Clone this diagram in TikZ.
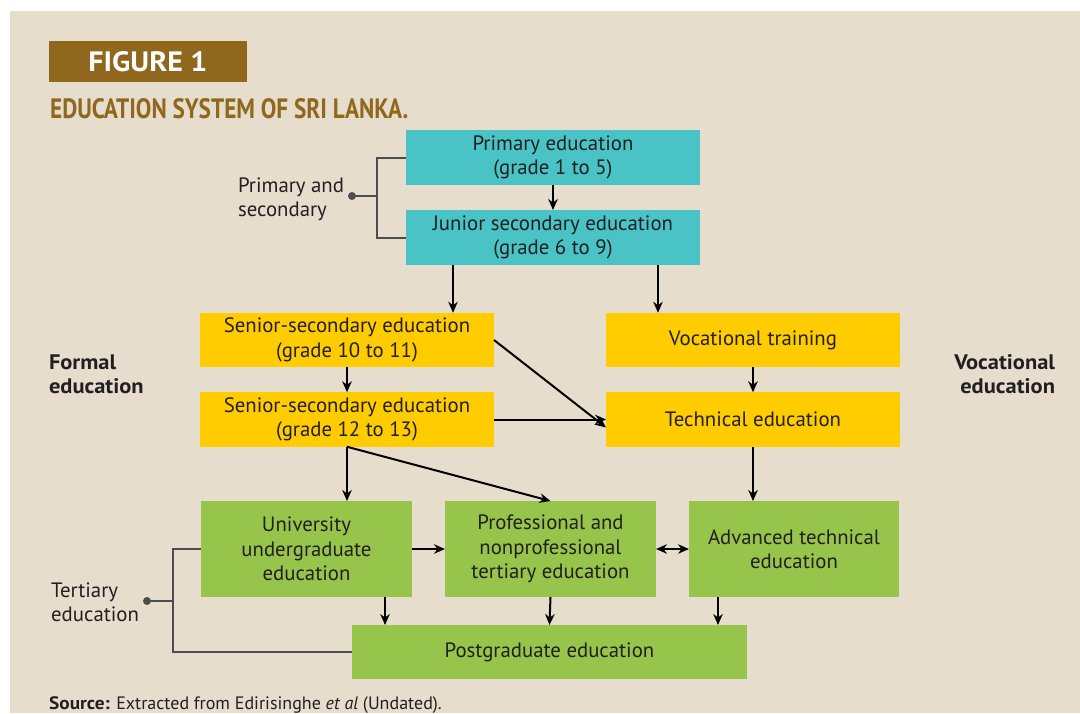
\documentclass[tikz,border=0pt]{standalone}
\usepackage{fontspec}
\setmainfont{PT Sans}
\newfontfamily\condfont{PT Sans}[FakeStretch=0.83]
\newfontfamily\widefont{PT Sans}[FakeStretch=1.07]
\usetikzlibrary{arrows.meta, positioning, calc}
\definecolor{bgbeige}{RGB}{230,221,205}
\definecolor{figbrown}{RGB}{143,104,30}
\definecolor{tealbox}{RGB}{73,195,198}
\definecolor{yellowbox}{RGB}{255,204,0}
\definecolor{greenbox}{RGB}{151,196,75}
\definecolor{txtdark}{RGB}{35,31,32}
\definecolor{brackgray}{RGB}{77,77,79}
\tikzset{
  basebox/.style={rectangle,inner sep=2pt,outer sep=0pt,align=center,text=txtdark,font=\fontsize{20.8}{24.5}\selectfont},
  primnode/.style={basebox,fill=tealbox,minimum width=294pt,minimum height=55pt},
  secnode/.style={basebox,fill=yellowbox,minimum width=294pt,minimum height=54.5pt},
  ternode/.style={basebox,fill=greenbox,minimum width=211pt,minimum height=96pt},
  labelnode/.style={inner sep=0pt,outer sep=0pt,text=txtdark,font=\fontsize{20.8}{24}\selectfont},
  boldlabel/.style={labelnode,font=\fontsize{21}{24}\widefont\bfseries},
  arr/.style={-{Stealth[length=11pt,width=9.5pt]},line width=2pt,color=black},
  dblarr/.style={{Stealth[length=11pt,width=9.5pt]}-{Stealth[length=11pt,width=9.5pt]},line width=2pt,color=black},
  brack/.style={line width=2pt,draw=brackgray}
}

\begin{document}
\begin{tikzpicture}[x=1pt,y=-1pt]
  \useasboundingbox (0,0) rectangle (1080,713);
  \fill[bgbeige] (10,11) rectangle (1080,713);

  % heading
  \node[fill=figbrown,minimum width=198pt,minimum height=41pt,inner sep=0pt,text=white,
        font=\fontsize{28}{30}\widefont\bfseries] (fig) at (148,61.5) {FIGURE 1};
  \node[anchor=base west,inner sep=0pt,text=figbrown,font=\fontsize{28}{32}\condfont\bfseries]
    (title) at (50,118) {EDUCATION SYSTEM OF SRI LANKA.};

  % primary and secondary
  \node[primnode] (prim) at (553,157.5) {Primary education\\(grade 1 to 5)};
  \node[primnode,below=25pt of prim] (junior) {Junior secondary education\\(grade 6 to 9)};
  \node[secnode] (sen1) at (347,340) {Senior-secondary education\\(grade 10 to 11)};
  \node[secnode,below=25pt of sen1] (sen2) {Senior-secondary education\\(grade 12 to 13)};
  \node[secnode,right=112pt of sen1] (voc) {Vocational training};
  \node[secnode,below=25pt of voc] (tech) {Technical education};

  % tertiary
  \node[ternode] (univ) at (306.5,549) {University\\undergraduate\\education};
  \node[ternode,right=33pt of univ] (prof) {Professional and\\nonprofessional\\tertiary education};
  \node[ternode,right=33pt of prof,minimum width=210pt] (adv) {Advanced technical\\education};
  \node[basebox,fill=greenbox,minimum width=395pt,minimum height=54pt] (post) at (549.5,652)
    {Postgraduate education};

  % side labels
  \node[labelnode,anchor=east,align=left] (pslab) at (344,199) {Primary and\\secondary};
  \node[labelnode,anchor=east,align=left] (terlab) at (139,602) {Tertiary\\education};
  \node[boldlabel,anchor=west,align=left] (formal) at (49,374) {Formal\\education};
  \node[boldlabel,anchor=east,align=right] (vocl) at (1055,374) {Vocational\\education};
  \node[anchor=base west,inner sep=0pt,text=txtdark,font=\fontsize{18}{20}\selectfont]
    (src) at (49,709) {\textbf{\widefont Source:} Extracted from Edirisinghe \textit{et al} (Undated).};

  % brackets
  \coordinate (psdot) at (352,196);
  \coordinate (psbrk) at ([xshift=-29pt]prim.west);
  \draw[brack] (prim.west) -- (psbrk) |- (junior.west);
  \draw[brack] (psdot) -- (psdot -| psbrk);
  \fill[brackgray] (psdot) circle (4pt);
  \coordinate (terdot) at (147,601);
  \coordinate (terbrk) at ([xshift=-28pt]univ.west);
  \draw[brack] (univ.west) -- (terbrk) |- (post.west);
  \draw[brack] (terdot) -- (terdot -| terbrk);
  \fill[brackgray] (terdot) circle (4pt);

  % arrows
  \draw[arr] (prim.south) -- (junior.north);
  \draw[arr] ([xshift=47pt]junior.south west) -- ([xshift=47pt]junior.south west |- sen1.north);
  \draw[arr] ([xshift=-42pt]junior.south east) -- ([xshift=-42pt]junior.south east |- voc.north);
  \draw[arr] (sen1.south) -- (sen2.north);
  \draw[arr] (sen1.east) -- ([yshift=-8pt]tech.west);
  \draw[arr] (sen2.east) -- (tech.west);
  \draw[arr] (voc.south) -- (tech.north);
  \draw[arr] (tech.south) -- (tech.south |- adv.north);
  \draw[arr] (sen2.south) -- (sen2.south |- univ.north);
  \draw[arr] (sen2.south) -- (prof.north);
  \draw[arr] (univ.east) -- (prof.west);
  \draw[dblarr] (prof.east) -- (adv.west);
  \draw[arr] ([xshift=-27pt]univ.south east) -- ([xshift=-27pt]univ.south east |- post.north);
  \draw[arr] (prof.south) -- (post.north);
  \draw[arr] ([xshift=29pt]adv.south west) -- ([xshift=29pt]adv.south west |- post.north);
\end{tikzpicture}
\end{document}
